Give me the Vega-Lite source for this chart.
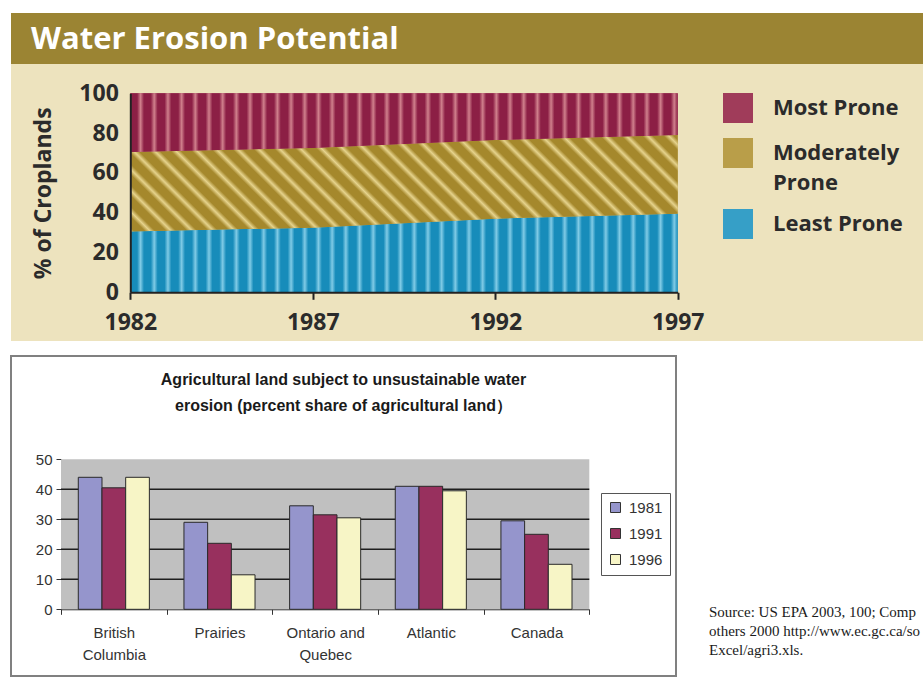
{
  "$schema": "https://vega.github.io/schema/vega-lite/v6.json",
  "background": "white",
  "padding": {"left": 10, "top": 13, "right": 0, "bottom": 0},
  "config": {"view": {"stroke": null}, "style": {"guide-label": {"lineHeight": 30}}},
  "resolve": {"scale": {"color": "independent"}, "legend": {"color": "independent"}},
  "title": {
    "text": ["Source: US EPA 2003, 100; Comp", "others 2000 http://www.ec.gc.ca/so", "Excel/agri3.xls."],
    "orient": "bottom", "anchor": "start", "dx": 699, "offset": -72,
    "baseline": "top", "font": "Liberation Serif", "fontSize": 15, "fontWeight": "normal",
    "color": "#1a1a1a", "lineHeight": 19
  },
  "spacing": 14,
  "vconcat": [
    {
      "spacing": 0,
      "vconcat": [
        {
          "width": 913, "height": 51,
          "view": {"fill": "#9b8433", "stroke": null},
          "data": {"values": [{"t": "Water Erosion Potential"}]},
          "mark": {"type": "rect", "color": "#9b8433"},
          "encoding": {},
          "title": {
            "text": "Water Erosion Potential", "anchor": "start", "frame": "group",
            "dx": 20, "offset": -58, "baseline": "middle",
            "font": "Open Sans", "fontSize": 31, "fontWeight": "bold", "color": "white"
          }
        },
        {
          "width": 913, "height": 277,
          "view": {"fill": "#ede3be", "stroke": null},
          "data": {"values": [
            {"year": 1982, "category": "Least Prone", "pct": 30.5},
            {"year": 1987, "category": "Least Prone", "pct": 32.5},
            {"year": 1992, "category": "Least Prone", "pct": 37},
            {"year": 1997, "category": "Least Prone", "pct": 39.5},
            {"year": 1982, "category": "Moderately Prone", "pct": 40},
            {"year": 1987, "category": "Moderately Prone", "pct": 40},
            {"year": 1992, "category": "Moderately Prone", "pct": 39.5},
            {"year": 1997, "category": "Moderately Prone", "pct": 39.5},
            {"year": 1982, "category": "Most Prone", "pct": 29.5},
            {"year": 1987, "category": "Most Prone", "pct": 27.5},
            {"year": 1992, "category": "Most Prone", "pct": 23.5},
            {"year": 1997, "category": "Most Prone", "pct": 21}
          ]},
          "layer": [
            {
              "mark": {"type": "area", "interpolate": "linear"},
              "encoding": {
                "x": {
                  "field": "year", "type": "quantitative",
                  "scale": {"domain": [1982, 1997], "range": [119.3, 666.7], "nice": false, "zero": false},
                  "axis": {
                    "values": [1982, 1987, 1992, 1997], "format": "d", "offset": -48.7, "title": null, "zindex": 1,
                    "labelFont": "Open Sans", "labelFontSize": 23, "labelFontWeight": "bold", "labelColor": "#2b2b2b",
                    "labelFlush": false, "labelPadding": 12, "labelLineHeight": 20,
                    "domainColor": "#222222", "domainWidth": 2, "tickColor": "#222222", "tickWidth": 2, "tickSize": 7,
                    "grid": false
                  }
                },
                "y": {
                  "field": "pct", "type": "quantitative", "stack": "zero",
                  "scale": {"domain": [0, 100], "range": [228.3, 29.3], "nice": false},
                  "axis": {
                    "values": [0, 20, 40, 60, 80, 100], "offset": -119.3, "zindex": 1,
                    "title": "% of Croplands", "titleFont": "Open Sans", "titleFontSize": 23, "titleFontWeight": "bold",
                    "titleColor": "#2b2b2b", "titlePadding": 23,
                    "labelFont": "Open Sans", "labelFontSize": 23, "labelFontWeight": "bold", "labelColor": "#2b2b2b",
                    "labelPadding": 12, "ticks": false, "labelFlush": false, "labelLineHeight": 20,
                    "domainColor": "#222222", "domainWidth": 2, "grid": false
                  }
                },
                "color": {
                  "field": "category", "type": "nominal",
                  "scale": {"domain": ["Most Prone", "Moderately Prone", "Least Prone"], "range": ["#a03c5a", "#b99e49", "#369fc7"]},
                  "legend": {
                    "orient": "none", "legendX": 712, "legendY": 80, "title": null, "padding": 0,
                    "symbolType": "square", "symbolSize": 900, "symbolStrokeWidth": 0,
                    "labelFont": "Open Sans", "labelFontSize": 22, "labelFontWeight": "bold", "labelColor": "#2b2b2b",
                    "labelOffset": 20, "rowPadding": 15, "labelLimit": 300,
                    "labelExpr": "datum.label == 'Moderately Prone' ? ['Moderately', 'Prone'] : datum.label"
                  }
                },
                "order": {"field": "category", "sort": "ascending"}
              }
            },
            {
              "transform": [
                {"stack": "pct", "groupby": ["year"], "sort": [{"field": "category", "order": "ascending"}], "as": ["lo", "hi"]},
                {"filter": "datum.category == 'Least Prone'"}
              ],
              "mark": {"type": "area", "interpolate": "linear", "strokeWidth": 0, "fill": {
                "gradient": "linear", "x1": 0, "y1": 0, "x2": 1, "y2": 0,
                "stops": [
                  {"offset": 0, "color": "#178cba"}, {"offset": 0.0125, "color": "#178cba"}, {"offset": 0.01875, "color": "#80cbe6"},
                  {"offset": 0.025, "color": "#178cba"}, {"offset": 0.0375, "color": "#178cba"}, {"offset": 0.04375, "color": "#80cbe6"},
                  {"offset": 0.05, "color": "#178cba"}, {"offset": 0.0625, "color": "#178cba"}, {"offset": 0.06875, "color": "#80cbe6"},
                  {"offset": 0.075, "color": "#178cba"}, {"offset": 0.0875, "color": "#178cba"}, {"offset": 0.09375, "color": "#80cbe6"},
                  {"offset": 0.1, "color": "#178cba"}, {"offset": 0.1125, "color": "#178cba"}, {"offset": 0.11875, "color": "#80cbe6"},
                  {"offset": 0.125, "color": "#178cba"}, {"offset": 0.1375, "color": "#178cba"}, {"offset": 0.14375, "color": "#80cbe6"},
                  {"offset": 0.15, "color": "#178cba"}, {"offset": 0.1625, "color": "#178cba"}, {"offset": 0.16875, "color": "#80cbe6"},
                  {"offset": 0.175, "color": "#178cba"}, {"offset": 0.1875, "color": "#178cba"}, {"offset": 0.19375, "color": "#80cbe6"},
                  {"offset": 0.2, "color": "#178cba"}, {"offset": 0.2125, "color": "#178cba"}, {"offset": 0.21875, "color": "#80cbe6"},
                  {"offset": 0.225, "color": "#178cba"}, {"offset": 0.2375, "color": "#178cba"}, {"offset": 0.24375, "color": "#80cbe6"},
                  {"offset": 0.25, "color": "#178cba"}, {"offset": 0.2625, "color": "#178cba"}, {"offset": 0.26875, "color": "#80cbe6"},
                  {"offset": 0.275, "color": "#178cba"}, {"offset": 0.2875, "color": "#178cba"}, {"offset": 0.29375, "color": "#80cbe6"},
                  {"offset": 0.3, "color": "#178cba"}, {"offset": 0.3125, "color": "#178cba"}, {"offset": 0.31875, "color": "#80cbe6"},
                  {"offset": 0.325, "color": "#178cba"}, {"offset": 0.3375, "color": "#178cba"}, {"offset": 0.34375, "color": "#80cbe6"},
                  {"offset": 0.35, "color": "#178cba"}, {"offset": 0.3625, "color": "#178cba"}, {"offset": 0.36875, "color": "#80cbe6"},
                  {"offset": 0.375, "color": "#178cba"}, {"offset": 0.3875, "color": "#178cba"}, {"offset": 0.39375, "color": "#80cbe6"},
                  {"offset": 0.4, "color": "#178cba"}, {"offset": 0.4125, "color": "#178cba"}, {"offset": 0.41875, "color": "#80cbe6"},
                  {"offset": 0.425, "color": "#178cba"}, {"offset": 0.4375, "color": "#178cba"}, {"offset": 0.44375, "color": "#80cbe6"},
                  {"offset": 0.45, "color": "#178cba"}, {"offset": 0.4625, "color": "#178cba"}, {"offset": 0.46875, "color": "#80cbe6"},
                  {"offset": 0.475, "color": "#178cba"}, {"offset": 0.4875, "color": "#178cba"}, {"offset": 0.49375, "color": "#80cbe6"},
                  {"offset": 0.5, "color": "#178cba"}, {"offset": 0.5125, "color": "#178cba"}, {"offset": 0.51875, "color": "#80cbe6"},
                  {"offset": 0.525, "color": "#178cba"}, {"offset": 0.5375, "color": "#178cba"}, {"offset": 0.54375, "color": "#80cbe6"},
                  {"offset": 0.55, "color": "#178cba"}, {"offset": 0.5625, "color": "#178cba"}, {"offset": 0.56875, "color": "#80cbe6"},
                  {"offset": 0.575, "color": "#178cba"}, {"offset": 0.5875, "color": "#178cba"}, {"offset": 0.59375, "color": "#80cbe6"},
                  {"offset": 0.6, "color": "#178cba"}, {"offset": 0.6125, "color": "#178cba"}, {"offset": 0.61875, "color": "#80cbe6"},
                  {"offset": 0.625, "color": "#178cba"}, {"offset": 0.6375, "color": "#178cba"}, {"offset": 0.64375, "color": "#80cbe6"},
                  {"offset": 0.65, "color": "#178cba"}, {"offset": 0.6625, "color": "#178cba"}, {"offset": 0.66875, "color": "#80cbe6"},
                  {"offset": 0.675, "color": "#178cba"}, {"offset": 0.6875, "color": "#178cba"}, {"offset": 0.69375, "color": "#80cbe6"},
                  {"offset": 0.7, "color": "#178cba"}, {"offset": 0.7125, "color": "#178cba"}, {"offset": 0.71875, "color": "#80cbe6"},
                  {"offset": 0.725, "color": "#178cba"}, {"offset": 0.7375, "color": "#178cba"}, {"offset": 0.74375, "color": "#80cbe6"},
                  {"offset": 0.75, "color": "#178cba"}, {"offset": 0.7625, "color": "#178cba"}, {"offset": 0.76875, "color": "#80cbe6"},
                  {"offset": 0.775, "color": "#178cba"}, {"offset": 0.7875, "color": "#178cba"}, {"offset": 0.79375, "color": "#80cbe6"},
                  {"offset": 0.8, "color": "#178cba"}, {"offset": 0.8125, "color": "#178cba"}, {"offset": 0.81875, "color": "#80cbe6"},
                  {"offset": 0.825, "color": "#178cba"}, {"offset": 0.8375, "color": "#178cba"}, {"offset": 0.84375, "color": "#80cbe6"},
                  {"offset": 0.85, "color": "#178cba"}, {"offset": 0.8625, "color": "#178cba"}, {"offset": 0.86875, "color": "#80cbe6"},
                  {"offset": 0.875, "color": "#178cba"}, {"offset": 0.8875, "color": "#178cba"}, {"offset": 0.89375, "color": "#80cbe6"},
                  {"offset": 0.9, "color": "#178cba"}, {"offset": 0.9125, "color": "#178cba"}, {"offset": 0.91875, "color": "#80cbe6"},
                  {"offset": 0.925, "color": "#178cba"}, {"offset": 0.9375, "color": "#178cba"}, {"offset": 0.94375, "color": "#80cbe6"},
                  {"offset": 0.95, "color": "#178cba"}, {"offset": 0.9625, "color": "#178cba"}, {"offset": 0.96875, "color": "#80cbe6"},
                  {"offset": 0.975, "color": "#178cba"}, {"offset": 0.9875, "color": "#178cba"}, {"offset": 0.99375, "color": "#80cbe6"},
                  {"offset": 1, "color": "#178cba"}
                ]}},
              "encoding": {
                "x": {"field": "year", "type": "quantitative", "scale": {"domain": [1982, 1997], "range": [119.3, 666.7], "nice": false, "zero": false}},
                "y": {"field": "hi", "type": "quantitative", "scale": {"domain": [0, 100], "range": [228.3, 29.3], "nice": false}},
                "y2": {"field": "lo"}
              }
            },
            {
              "transform": [
                {"stack": "pct", "groupby": ["year"], "sort": [{"field": "category", "order": "ascending"}], "as": ["lo", "hi"]},
                {"filter": "datum.category == 'Moderately Prone'"}
              ],
              "mark": {"type": "area", "interpolate": "linear", "strokeWidth": 0, "fill": {
                "gradient": "linear", "x1": -0.1, "y1": 0.6058, "x2": 1.1, "y2": 0.3942,
                "stops": [
                  {"offset": 0, "color": "#a5882c"}, {"offset": 0.015625, "color": "#a5882c"}, {"offset": 0.0234375, "color": "#e6d38c"},
                  {"offset": 0.03125, "color": "#a5882c"}, {"offset": 0.046875, "color": "#a5882c"}, {"offset": 0.0546875, "color": "#e6d38c"},
                  {"offset": 0.0625, "color": "#a5882c"}, {"offset": 0.078125, "color": "#a5882c"}, {"offset": 0.0859375, "color": "#e6d38c"},
                  {"offset": 0.09375, "color": "#a5882c"}, {"offset": 0.109375, "color": "#a5882c"}, {"offset": 0.1171875, "color": "#e6d38c"},
                  {"offset": 0.125, "color": "#a5882c"}, {"offset": 0.140625, "color": "#a5882c"}, {"offset": 0.1484375, "color": "#e6d38c"},
                  {"offset": 0.15625, "color": "#a5882c"}, {"offset": 0.171875, "color": "#a5882c"}, {"offset": 0.1796875, "color": "#e6d38c"},
                  {"offset": 0.1875, "color": "#a5882c"}, {"offset": 0.203125, "color": "#a5882c"}, {"offset": 0.2109375, "color": "#e6d38c"},
                  {"offset": 0.21875, "color": "#a5882c"}, {"offset": 0.234375, "color": "#a5882c"}, {"offset": 0.2421875, "color": "#e6d38c"},
                  {"offset": 0.25, "color": "#a5882c"}, {"offset": 0.265625, "color": "#a5882c"}, {"offset": 0.2734375, "color": "#e6d38c"},
                  {"offset": 0.28125, "color": "#a5882c"}, {"offset": 0.296875, "color": "#a5882c"}, {"offset": 0.3046875, "color": "#e6d38c"},
                  {"offset": 0.3125, "color": "#a5882c"}, {"offset": 0.328125, "color": "#a5882c"}, {"offset": 0.3359375, "color": "#e6d38c"},
                  {"offset": 0.34375, "color": "#a5882c"}, {"offset": 0.359375, "color": "#a5882c"}, {"offset": 0.3671875, "color": "#e6d38c"},
                  {"offset": 0.375, "color": "#a5882c"}, {"offset": 0.390625, "color": "#a5882c"}, {"offset": 0.3984375, "color": "#e6d38c"},
                  {"offset": 0.40625, "color": "#a5882c"}, {"offset": 0.421875, "color": "#a5882c"}, {"offset": 0.4296875, "color": "#e6d38c"},
                  {"offset": 0.4375, "color": "#a5882c"}, {"offset": 0.453125, "color": "#a5882c"}, {"offset": 0.4609375, "color": "#e6d38c"},
                  {"offset": 0.46875, "color": "#a5882c"}, {"offset": 0.484375, "color": "#a5882c"}, {"offset": 0.4921875, "color": "#e6d38c"},
                  {"offset": 0.5, "color": "#a5882c"}, {"offset": 0.515625, "color": "#a5882c"}, {"offset": 0.5234375, "color": "#e6d38c"},
                  {"offset": 0.53125, "color": "#a5882c"}, {"offset": 0.546875, "color": "#a5882c"}, {"offset": 0.5546875, "color": "#e6d38c"},
                  {"offset": 0.5625, "color": "#a5882c"}, {"offset": 0.578125, "color": "#a5882c"}, {"offset": 0.5859375, "color": "#e6d38c"},
                  {"offset": 0.59375, "color": "#a5882c"}, {"offset": 0.609375, "color": "#a5882c"}, {"offset": 0.6171875, "color": "#e6d38c"},
                  {"offset": 0.625, "color": "#a5882c"}, {"offset": 0.640625, "color": "#a5882c"}, {"offset": 0.6484375, "color": "#e6d38c"},
                  {"offset": 0.65625, "color": "#a5882c"}, {"offset": 0.671875, "color": "#a5882c"}, {"offset": 0.6796875, "color": "#e6d38c"},
                  {"offset": 0.6875, "color": "#a5882c"}, {"offset": 0.703125, "color": "#a5882c"}, {"offset": 0.7109375, "color": "#e6d38c"},
                  {"offset": 0.71875, "color": "#a5882c"}, {"offset": 0.734375, "color": "#a5882c"}, {"offset": 0.7421875, "color": "#e6d38c"},
                  {"offset": 0.75, "color": "#a5882c"}, {"offset": 0.765625, "color": "#a5882c"}, {"offset": 0.7734375, "color": "#e6d38c"},
                  {"offset": 0.78125, "color": "#a5882c"}, {"offset": 0.796875, "color": "#a5882c"}, {"offset": 0.8046875, "color": "#e6d38c"},
                  {"offset": 0.8125, "color": "#a5882c"}, {"offset": 0.828125, "color": "#a5882c"}, {"offset": 0.8359375, "color": "#e6d38c"},
                  {"offset": 0.84375, "color": "#a5882c"}, {"offset": 0.859375, "color": "#a5882c"}, {"offset": 0.8671875, "color": "#e6d38c"},
                  {"offset": 0.875, "color": "#a5882c"}, {"offset": 0.890625, "color": "#a5882c"}, {"offset": 0.8984375, "color": "#e6d38c"},
                  {"offset": 0.90625, "color": "#a5882c"}, {"offset": 0.921875, "color": "#a5882c"}, {"offset": 0.9296875, "color": "#e6d38c"},
                  {"offset": 0.9375, "color": "#a5882c"}, {"offset": 0.953125, "color": "#a5882c"}, {"offset": 0.9609375, "color": "#e6d38c"},
                  {"offset": 0.96875, "color": "#a5882c"}, {"offset": 0.984375, "color": "#a5882c"}, {"offset": 0.9921875, "color": "#e6d38c"},
                  {"offset": 1, "color": "#a5882c"}
                ]}},
              "encoding": {
                "x": {"field": "year", "type": "quantitative", "scale": {"domain": [1982, 1997], "range": [119.3, 666.7], "nice": false, "zero": false}},
                "y": {"field": "hi", "type": "quantitative", "scale": {"domain": [0, 100], "range": [228.3, 29.3], "nice": false}},
                "y2": {"field": "lo"}
              }
            },
            {
              "transform": [
                {"stack": "pct", "groupby": ["year"], "sort": [{"field": "category", "order": "ascending"}], "as": ["lo", "hi"]},
                {"filter": "datum.category == 'Most Prone'"}
              ],
              "mark": {"type": "area", "interpolate": "linear", "strokeWidth": 0, "fill": {
                "gradient": "linear", "x1": 0, "y1": 0, "x2": 1, "y2": 0,
                "stops": [
                  {"offset": 0, "color": "#8c1f45"}, {"offset": 0.0125, "color": "#8c1f45"}, {"offset": 0.01875, "color": "#d0808c"},
                  {"offset": 0.025, "color": "#8c1f45"}, {"offset": 0.0375, "color": "#8c1f45"}, {"offset": 0.04375, "color": "#d0808c"},
                  {"offset": 0.05, "color": "#8c1f45"}, {"offset": 0.0625, "color": "#8c1f45"}, {"offset": 0.06875, "color": "#d0808c"},
                  {"offset": 0.075, "color": "#8c1f45"}, {"offset": 0.0875, "color": "#8c1f45"}, {"offset": 0.09375, "color": "#d0808c"},
                  {"offset": 0.1, "color": "#8c1f45"}, {"offset": 0.1125, "color": "#8c1f45"}, {"offset": 0.11875, "color": "#d0808c"},
                  {"offset": 0.125, "color": "#8c1f45"}, {"offset": 0.1375, "color": "#8c1f45"}, {"offset": 0.14375, "color": "#d0808c"},
                  {"offset": 0.15, "color": "#8c1f45"}, {"offset": 0.1625, "color": "#8c1f45"}, {"offset": 0.16875, "color": "#d0808c"},
                  {"offset": 0.175, "color": "#8c1f45"}, {"offset": 0.1875, "color": "#8c1f45"}, {"offset": 0.19375, "color": "#d0808c"},
                  {"offset": 0.2, "color": "#8c1f45"}, {"offset": 0.2125, "color": "#8c1f45"}, {"offset": 0.21875, "color": "#d0808c"},
                  {"offset": 0.225, "color": "#8c1f45"}, {"offset": 0.2375, "color": "#8c1f45"}, {"offset": 0.24375, "color": "#d0808c"},
                  {"offset": 0.25, "color": "#8c1f45"}, {"offset": 0.2625, "color": "#8c1f45"}, {"offset": 0.26875, "color": "#d0808c"},
                  {"offset": 0.275, "color": "#8c1f45"}, {"offset": 0.2875, "color": "#8c1f45"}, {"offset": 0.29375, "color": "#d0808c"},
                  {"offset": 0.3, "color": "#8c1f45"}, {"offset": 0.3125, "color": "#8c1f45"}, {"offset": 0.31875, "color": "#d0808c"},
                  {"offset": 0.325, "color": "#8c1f45"}, {"offset": 0.3375, "color": "#8c1f45"}, {"offset": 0.34375, "color": "#d0808c"},
                  {"offset": 0.35, "color": "#8c1f45"}, {"offset": 0.3625, "color": "#8c1f45"}, {"offset": 0.36875, "color": "#d0808c"},
                  {"offset": 0.375, "color": "#8c1f45"}, {"offset": 0.3875, "color": "#8c1f45"}, {"offset": 0.39375, "color": "#d0808c"},
                  {"offset": 0.4, "color": "#8c1f45"}, {"offset": 0.4125, "color": "#8c1f45"}, {"offset": 0.41875, "color": "#d0808c"},
                  {"offset": 0.425, "color": "#8c1f45"}, {"offset": 0.4375, "color": "#8c1f45"}, {"offset": 0.44375, "color": "#d0808c"},
                  {"offset": 0.45, "color": "#8c1f45"}, {"offset": 0.4625, "color": "#8c1f45"}, {"offset": 0.46875, "color": "#d0808c"},
                  {"offset": 0.475, "color": "#8c1f45"}, {"offset": 0.4875, "color": "#8c1f45"}, {"offset": 0.49375, "color": "#d0808c"},
                  {"offset": 0.5, "color": "#8c1f45"}, {"offset": 0.5125, "color": "#8c1f45"}, {"offset": 0.51875, "color": "#d0808c"},
                  {"offset": 0.525, "color": "#8c1f45"}, {"offset": 0.5375, "color": "#8c1f45"}, {"offset": 0.54375, "color": "#d0808c"},
                  {"offset": 0.55, "color": "#8c1f45"}, {"offset": 0.5625, "color": "#8c1f45"}, {"offset": 0.56875, "color": "#d0808c"},
                  {"offset": 0.575, "color": "#8c1f45"}, {"offset": 0.5875, "color": "#8c1f45"}, {"offset": 0.59375, "color": "#d0808c"},
                  {"offset": 0.6, "color": "#8c1f45"}, {"offset": 0.6125, "color": "#8c1f45"}, {"offset": 0.61875, "color": "#d0808c"},
                  {"offset": 0.625, "color": "#8c1f45"}, {"offset": 0.6375, "color": "#8c1f45"}, {"offset": 0.64375, "color": "#d0808c"},
                  {"offset": 0.65, "color": "#8c1f45"}, {"offset": 0.6625, "color": "#8c1f45"}, {"offset": 0.66875, "color": "#d0808c"},
                  {"offset": 0.675, "color": "#8c1f45"}, {"offset": 0.6875, "color": "#8c1f45"}, {"offset": 0.69375, "color": "#d0808c"},
                  {"offset": 0.7, "color": "#8c1f45"}, {"offset": 0.7125, "color": "#8c1f45"}, {"offset": 0.71875, "color": "#d0808c"},
                  {"offset": 0.725, "color": "#8c1f45"}, {"offset": 0.7375, "color": "#8c1f45"}, {"offset": 0.74375, "color": "#d0808c"},
                  {"offset": 0.75, "color": "#8c1f45"}, {"offset": 0.7625, "color": "#8c1f45"}, {"offset": 0.76875, "color": "#d0808c"},
                  {"offset": 0.775, "color": "#8c1f45"}, {"offset": 0.7875, "color": "#8c1f45"}, {"offset": 0.79375, "color": "#d0808c"},
                  {"offset": 0.8, "color": "#8c1f45"}, {"offset": 0.8125, "color": "#8c1f45"}, {"offset": 0.81875, "color": "#d0808c"},
                  {"offset": 0.825, "color": "#8c1f45"}, {"offset": 0.8375, "color": "#8c1f45"}, {"offset": 0.84375, "color": "#d0808c"},
                  {"offset": 0.85, "color": "#8c1f45"}, {"offset": 0.8625, "color": "#8c1f45"}, {"offset": 0.86875, "color": "#d0808c"},
                  {"offset": 0.875, "color": "#8c1f45"}, {"offset": 0.8875, "color": "#8c1f45"}, {"offset": 0.89375, "color": "#d0808c"},
                  {"offset": 0.9, "color": "#8c1f45"}, {"offset": 0.9125, "color": "#8c1f45"}, {"offset": 0.91875, "color": "#d0808c"},
                  {"offset": 0.925, "color": "#8c1f45"}, {"offset": 0.9375, "color": "#8c1f45"}, {"offset": 0.94375, "color": "#d0808c"},
                  {"offset": 0.95, "color": "#8c1f45"}, {"offset": 0.9625, "color": "#8c1f45"}, {"offset": 0.96875, "color": "#d0808c"},
                  {"offset": 0.975, "color": "#8c1f45"}, {"offset": 0.9875, "color": "#8c1f45"}, {"offset": 0.99375, "color": "#d0808c"},
                  {"offset": 1, "color": "#8c1f45"}
                ]}},
              "encoding": {
                "x": {"field": "year", "type": "quantitative", "scale": {"domain": [1982, 1997], "range": [119.3, 666.7], "nice": false, "zero": false}},
                "y": {"field": "hi", "type": "quantitative", "scale": {"domain": [0, 100], "range": [228.3, 29.3], "nice": false}},
                "y2": {"field": "lo"}
              }
            }
          ]
        }
      ]
    },
    {
      "width": 665, "height": 320,
      "view": {"fill": "white", "stroke": "#808080", "strokeWidth": 2},
      "title": {
        "text": ["Agricultural land subject to unsustainable water", "erosion (percent share of agricultural land）"],
        "anchor": "middle", "frame": "group", "offset": -66, "baseline": "middle",
        "font": "Liberation Sans", "fontSize": 16, "fontWeight": "bold", "color": "#1a1a1a", "lineHeight": 26
      },
      "layer": [
        {
          "data": {"values": [{}]},
          "mark": {"type": "rect", "color": "#c0c0c0"},
          "encoding": {
            "x": {"datum": "British Columbia", "type": "nominal", "bandPosition": 0,
              "scale": {"domain": ["British Columbia", "Prairies", "Ontario and Quebec", "Atlantic", "Canada"], "range": [50, 578.3], "paddingInner": 0, "paddingOuter": 0},
              "axis": {
                "orient": "bottom", "offset": -66.7, "title": null, "labelAngle": 0,
                "tickBand": "extent", "tickSize": 5, "tickColor": "#333333", "domainColor": "#333333",
                "labelFont": "Liberation Sans", "labelFontSize": 15, "labelColor": "#333333", "labelPadding": 11,
                "labelLineHeight": 22,
                "labelExpr": "datum.label == 'British Columbia' ? ['British', 'Columbia'] : datum.label == 'Ontario and Quebec' ? ['Ontario and', 'Quebec'] : datum.label"
              }},
            "x2": {"datum": "Canada", "bandPosition": 1},
            "y": {"datum": 0, "type": "quantitative",
              "scale": {"domain": [0, 50], "range": [253.3, 103.3], "nice": false},
              "axis": {
                "values": [0, 10, 20, 30, 40, 50], "offset": -50, "title": null, "grid": false,
                "tickSize": 5, "tickColor": "#333333", "domainColor": "#333333", "labelLineHeight": 16,
                "labelFont": "Liberation Sans", "labelFontSize": 15, "labelColor": "#333333", "labelPadding": 4
              }},
            "y2": {"datum": 50}
          }
        },
        {
          "data": {"values": [{"g": 10}, {"g": 20}, {"g": 30}, {"g": 40}]},
          "mark": {"type": "rule", "color": "#1e1e1e", "strokeWidth": 1.5},
          "encoding": {
            "x": {"datum": "British Columbia", "type": "nominal", "bandPosition": 0,
              "scale": {"domain": ["British Columbia", "Prairies", "Ontario and Quebec", "Atlantic", "Canada"], "range": [50, 578.3], "paddingInner": 0, "paddingOuter": 0},
              "axis": {
                "orient": "bottom", "offset": -66.7, "title": null, "labelAngle": 0,
                "tickBand": "extent", "tickSize": 5, "tickColor": "#333333", "domainColor": "#333333",
                "labelFont": "Liberation Sans", "labelFontSize": 15, "labelColor": "#333333", "labelPadding": 11,
                "labelLineHeight": 22,
                "labelExpr": "datum.label == 'British Columbia' ? ['British', 'Columbia'] : datum.label == 'Ontario and Quebec' ? ['Ontario and', 'Quebec'] : datum.label"
              }},
            "x2": {"datum": "Canada", "bandPosition": 1},
            "y": {"field": "g", "type": "quantitative",
              "scale": {"domain": [0, 50], "range": [253.3, 103.3], "nice": false},
              "axis": {
                "values": [0, 10, 20, 30, 40, 50], "offset": -50, "title": null, "grid": false,
                "tickSize": 5, "tickColor": "#333333", "domainColor": "#333333", "labelLineHeight": 16,
                "labelFont": "Liberation Sans", "labelFontSize": 15, "labelColor": "#333333", "labelPadding": 4
              }}
          }
        },
        {
          "data": {"values": [
            {"region": "British Columbia", "year": "1981", "pct": 44},
            {"region": "British Columbia", "year": "1991", "pct": 40.5},
            {"region": "British Columbia", "year": "1996", "pct": 44},
            {"region": "Prairies", "year": "1981", "pct": 29},
            {"region": "Prairies", "year": "1991", "pct": 22},
            {"region": "Prairies", "year": "1996", "pct": 11.5},
            {"region": "Ontario and Quebec", "year": "1981", "pct": 34.5},
            {"region": "Ontario and Quebec", "year": "1991", "pct": 31.5},
            {"region": "Ontario and Quebec", "year": "1996", "pct": 30.5},
            {"region": "Atlantic", "year": "1981", "pct": 41},
            {"region": "Atlantic", "year": "1991", "pct": 41},
            {"region": "Atlantic", "year": "1996", "pct": 39.5},
            {"region": "Canada", "year": "1981", "pct": 29.5},
            {"region": "Canada", "year": "1991", "pct": 25},
            {"region": "Canada", "year": "1996", "pct": 15}
          ]},
          "mark": {"type": "bar", "stroke": "#2a2a2a", "strokeWidth": 1},
          "encoding": {
            "x": {
              "field": "region", "type": "nominal",
              "scale": {"domain": ["British Columbia", "Prairies", "Ontario and Quebec", "Atlantic", "Canada"], "range": [50, 578.3], "paddingInner": 0, "paddingOuter": 0},
              "axis": {
                "orient": "bottom", "offset": -66.7, "title": null, "labelAngle": 0,
                "tickBand": "extent", "tickSize": 5, "tickColor": "#333333", "domainColor": "#333333",
                "labelFont": "Liberation Sans", "labelFontSize": 15, "labelColor": "#333333", "labelPadding": 11,
                "labelLineHeight": 22,
                "labelExpr": "datum.label == 'British Columbia' ? ['British', 'Columbia'] : datum.label == 'Ontario and Quebec' ? ['Ontario and', 'Quebec'] : datum.label"
              }
            },
            "xOffset": {"field": "year", "type": "nominal", "scale": {"paddingOuter": 0.73, "paddingInner": 0}},
            "y": {
              "field": "pct", "type": "quantitative",
              "scale": {"domain": [0, 50], "range": [253.3, 103.3], "nice": false},
              "axis": {
                "values": [0, 10, 20, 30, 40, 50], "offset": -50, "title": null, "grid": false,
                "tickSize": 5, "tickColor": "#333333", "domainColor": "#333333", "labelLineHeight": 16,
                "labelFont": "Liberation Sans", "labelFontSize": 15, "labelColor": "#333333", "labelPadding": 4
              }
            },
            "color": {
              "field": "year", "type": "nominal",
              "scale": {"domain": ["1981", "1991", "1996"], "range": ["#9595cc", "#98305e", "#f7f5c6"]},
              "legend": {
                "orient": "none", "legendX": 590, "legendY": 137, "title": null,
                "symbolType": "square", "symbolSize": 100, "symbolStrokeColor": "#333333", "symbolStrokeWidth": 1,
                "labelFont": "Liberation Sans", "labelFontSize": 15, "labelColor": "#333333", "labelOffset": 6,
                "rowPadding": 10, "padding": 7, "strokeColor": "#555555", "fillColor": "white"
              }
            }
          }
        }
      ]
    }
  ]
}
